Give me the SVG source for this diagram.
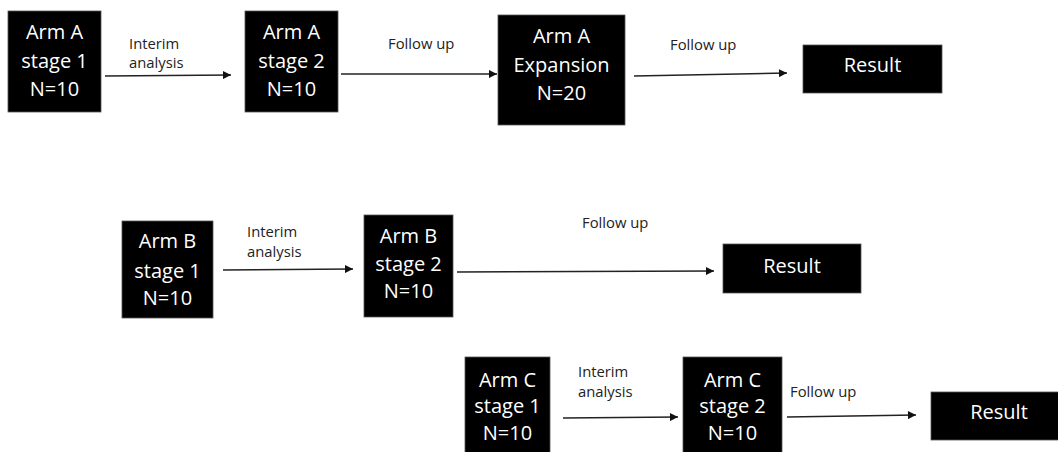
<svg xmlns="http://www.w3.org/2000/svg" width="1058" height="452" viewBox="0 0 1058 452">
<style>
.box{fill:#000;stroke:#555;stroke-width:0.8}
.bt{fill:#fff;font-family:"Open Sans","DejaVu Sans",sans-serif;font-size:20px;text-anchor:middle}
.lbl{fill:#222;font-family:"Open Sans","DejaVu Sans",sans-serif;font-size:14.8px}
.conn{stroke:#222;stroke-width:1.4;fill:none;marker-end:url(#ah)}
</style>
<defs>
<marker id="ah" viewBox="0 0 10 10" refX="10" refY="5" markerWidth="9" markerHeight="8" markerUnits="userSpaceOnUse" orient="auto">
<path d="M0,0 L10,5 L0,10 z" fill="#111"/>
</marker>
</defs>
<rect width="1058" height="452" fill="#fff"/>
<g id="connectors">
<line class="conn" x1="105" y1="76" x2="231" y2="75"/>
<line class="conn" x1="341" y1="74" x2="497" y2="74"/>
<line class="conn" x1="634" y1="76" x2="787" y2="73"/>
<line class="conn" x1="223" y1="270" x2="353" y2="269"/>
<line class="conn" x1="457" y1="272" x2="714" y2="271"/>
<line class="conn" x1="563" y1="418" x2="678" y2="417"/>
<line class="conn" x1="787" y1="417" x2="916" y2="415"/>
<text class="lbl" x="129" y="49">Interim</text>
<text class="lbl" x="129" y="68">analysis</text>
<text class="lbl" x="388" y="49">Follow up</text>
<text class="lbl" x="670" y="50">Follow up</text>
<text class="lbl" x="247" y="237">Interim</text>
<text class="lbl" x="247" y="257">analysis</text>
<text class="lbl" x="582" y="228">Follow up</text>
<text class="lbl" x="578" y="377">Interim</text>
<text class="lbl" x="578" y="397">analysis</text>
<text class="lbl" x="790" y="397">Follow up</text>
</g>
<g id="armA1">
<rect class="box" x="8" y="11" width="93" height="101"/>
<text class="bt" x="54.5" y="39">Arm A</text>
<text class="bt" x="54.5" y="68">stage 1</text>
<text class="bt" x="54.5" y="96">N=10</text>
</g>
<g id="armA2">
<rect class="box" x="245" y="11" width="93" height="101"/>
<text class="bt" x="291.5" y="39">Arm A</text>
<text class="bt" x="291.5" y="68">stage 2</text>
<text class="bt" x="291.5" y="96">N=10</text>
</g>
<g id="armA3">
<rect class="box" x="498" y="15" width="127" height="110"/>
<text class="bt" x="561.5" y="43">Arm A</text>
<text class="bt" x="561.5" y="72">Expansion</text>
<text class="bt" x="561.5" y="100">N=20</text>
</g>
<g id="resultA">
<rect class="box" x="803" y="45" width="139" height="48"/>
<text class="bt" x="872.5" y="72">Result</text>
</g>
<g id="armB1">
<rect class="box" x="122" y="221" width="91" height="97"/>
<text class="bt" x="167.5" y="248">Arm B</text>
<text class="bt" x="167.5" y="278">stage 1</text>
<text class="bt" x="167.5" y="305">N=10</text>
</g>
<g id="armB2">
<rect class="box" x="364" y="215" width="89" height="102"/>
<text class="bt" x="408.5" y="243">Arm B</text>
<text class="bt" x="408.5" y="271">stage 2</text>
<text class="bt" x="408.5" y="298">N=10</text>
</g>
<g id="resultB">
<rect class="box" x="723" y="244" width="138" height="49"/>
<text class="bt" x="792" y="273">Result</text>
</g>
<g id="armC1">
<rect class="box" x="465" y="357" width="85" height="100"/>
<text class="bt" x="507.5" y="387">Arm C</text>
<text class="bt" x="507.5" y="413">stage 1</text>
<text class="bt" x="507.5" y="440">N=10</text>
</g>
<g id="armC2">
<rect class="box" x="683" y="357" width="99" height="100"/>
<text class="bt" x="732.5" y="387">Arm C</text>
<text class="bt" x="732.5" y="413">stage 2</text>
<text class="bt" x="732.5" y="440">N=10</text>
</g>
<g id="resultC">
<rect class="box" x="931" y="392" width="140" height="48"/>
<text class="bt" x="999" y="419">Result</text>
</g>
</svg>
